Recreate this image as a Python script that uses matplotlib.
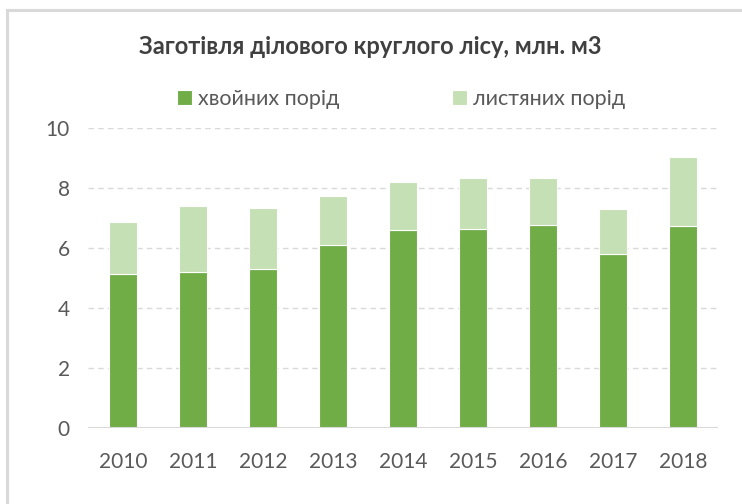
import matplotlib
matplotlib.use("Agg")
import matplotlib.pyplot as plt
from matplotlib.lines import Line2D

years = ["2010", "2011", "2012", "2013", "2014", "2015", "2016", "2017", "2018"]
coniferous = [5.12, 5.21, 5.29, 6.11, 6.60, 6.63, 6.77, 5.81, 6.74]
deciduous = [1.74, 2.20, 2.04, 1.61, 1.60, 1.70, 1.56, 1.48, 2.29]
series_names = ["хвойних порід", "листяних порід"]
title = "Заготівля ділового круглого лісу, млн. м3"
yticks = [0, 2, 4, 6, 8, 10]

plt.rcParams['font.family'] = ['Lato', 'DejaVu Sans']

W, H = 742, 504
fig = plt.figure(figsize=(W / 100, H / 100), dpi=100)

ax = fig.add_axes([88 / W, (H - 428) / H, 630 / W, 300 / H])

x = list(range(len(years)))
c1 = "#70AD47"
c2 = "#C5E0B4"
b1 = ax.bar(x, coniferous, width=0.4, color=c1, edgecolor="white", linewidth=0.8,
            label=series_names[0], zorder=3)
b2 = ax.bar(x, deciduous, width=0.4, bottom=coniferous, color=c2, edgecolor="white",
            linewidth=0.8, label=series_names[1], zorder=3)

ax.set_xlim(-0.5, len(years) - 0.5)
ax.set_ylim(0, 10)
ax.set_yticks(yticks)
ax.set_yticklabels([str(v) for v in yticks])
ax.set_xticks(x)
ax.set_xticklabels(years)

for v in yticks[1:]:
    ax.axhline(v, color="#D9D9D9", linewidth=1.0, linestyle=(0, (4, 3)), zorder=1)
ax.axhline(0, color="#D9D9D9", linewidth=1.5, zorder=4)

for s in ax.spines.values():
    s.set_visible(False)
ax.tick_params(axis="both", length=0, labelsize=15, colors="#595959")
ax.tick_params(axis="y", pad=13)
ax.tick_params(axis="x", pad=17)

fig.text(370 / W, 1 - 47 / H, title, ha="center", va="center", fontsize=17,
         fontweight="bold", color="#404040")

leg = fig.legend(handles=[b1, b2], labels=series_names, loc="center",
                 bbox_to_anchor=(401 / W, 1 - 99 / H), ncol=2, frameon=False,
                 fontsize=15.5, handlelength=0.7, handleheight=0.7, handletextpad=0.3,
                 columnspacing=5.2, labelcolor="#595959")

# chart frame
fig.add_artist(Line2D([7 / W, 1.0], [1 - 10 / H, 1 - 10 / H], color="#D9D9D9",
                      linewidth=2.2, transform=fig.transFigure))
fig.add_artist(Line2D([7 / W, 7 / W], [0, 1 - 10 / H], color="#D9D9D9",
                      linewidth=2.2, transform=fig.transFigure))

fig.savefig("out.png", dpi=100, facecolor="white")
